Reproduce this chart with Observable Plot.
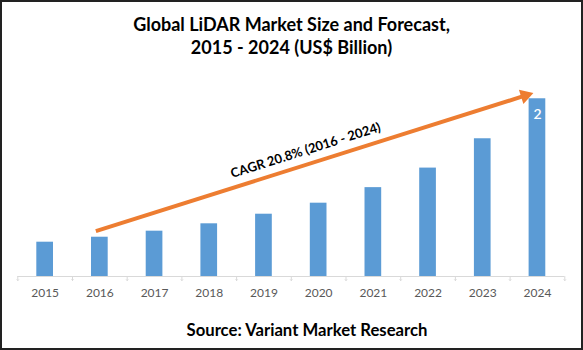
<!DOCTYPE html>
<html><head><meta charset="utf-8">
<script src="https://cdn.jsdelivr.net/npm/d3@7"></script>
<script src="https://cdn.jsdelivr.net/npm/@observablehq/plot@0.6"></script>
<style>
body{margin:0;background:#fff;}
#wrap{position:relative;width:583px;height:350px;background:#fff;font-family:Lato,"Open Sans",sans-serif;overflow:hidden}
#frame{position:absolute;left:0;top:0;width:583px;height:350px;box-sizing:border-box;border:2px solid #222;pointer-events:none}
#title{height:62px;box-sizing:border-box;padding-top:13px;text-align:center;font-weight:bold;font-size:18px;line-height:23px;color:#000}
#chart svg{display:block}
#source{height:40px;box-sizing:border-box;padding-top:9.5px;text-align:center;padding-left:31px;font-weight:bold;font-size:16.7px;line-height:20px;color:#000}
</style></head>
<body><div id="wrap"><div id="title"></div><div id="chart"></div><div id="source"></div><div id="frame"></div></div>
<script>
const years = ["2015","2016","2017","2018","2019","2020","2021","2022","2023","2024"];
const marketSize = [0.386, 0.442, 0.51, 0.593, 0.701, 0.825, 1.0, 1.22, 1.55, 2.0];
const valueLabels = ["", "", "", "", "", "", "", "", "", "2"];
const titleLines = ["Global LiDAR Market Size and Forecast,", "2015 - 2024 (US$ Billion)"];
const sourceText = "Source: Variant Market Research";
const cagrLabel = "CAGR 20.8% (2016 - 2024)";
const arrowYears = ["2016", "2024"];
const arrowValues = [0.51, 2.065];
const cagrYear = "2020";
const cagrValue = 1.418;

document.getElementById("title").innerHTML = titleLines.map(t => `<div>${t.replace(/\$/g, "&#36;")}</div>`).join("");
document.getElementById("source").textContent = sourceText;

const data = years.map((year, i) => ({year, value: marketSize[i], label: valueLabels[i]}));
const W = 583, mL = 17.3, mR = 18.7;
const step = (W - mL - mR) / years.length;

const chart = Plot.plot({
  width: W, height: 248,
  marginLeft: mL, marginRight: mR, marginTop: 18.5, marginBottom: 34,
  x: {domain: years, paddingInner: 0.695, paddingOuter: 0.3475, round: false, label: null},
  y: {domain: [0, 2.2], axis: null},
  style: {fontFamily: "Lato, 'Open Sans', sans-serif", background: "transparent", color: "#595959", overflow: "visible"},
  marks: [
    Plot.barY(data, {x: "year", y: "value", fill: "#5B9BD5"}),
    Plot.ruleY([0], {stroke: "#d9d9d9", strokeWidth: 1}),
    Plot.vector(years, {x: d => d, y: () => 0, length: 4, rotate: 180, anchor: "start", stroke: "#d9d9d9", strokeWidth: 1, dx: -step / 2}),
    Plot.vector([years[years.length - 1]], {x: d => d, y: () => 0, length: 4, rotate: 180, anchor: "start", stroke: "#d9d9d9", strokeWidth: 1, dx: step / 2}),
    Plot.axisX({tickSize: 0, tickPadding: 12, fontSize: 12, fill: "#595959", label: null}),
    Plot.text(data.filter(d => d.label), {x: "year", y: "value", text: "label", fill: "white", fontSize: 14, fontWeight: "600", dy: 16}),
    Plot.arrow([0], {x1: () => arrowYears[0], y1: () => arrowValues[0], x2: () => arrowYears[1], y2: () => arrowValues[1],
      stroke: "#ED7D31", strokeWidth: 4, headLength: 0, insetEnd: 9, dx: -4, strokeLinecap: "butt"}),
    Plot.dot([0], {x: () => arrowYears[1], y: () => arrowValues[1], symbol: "triangle", r: 5.5, fill: "#ED7D31", stroke: "none",
      rotate: 72.4, dx: -12.2, dy: 2.6}),
    Plot.text([cagrLabel], {x: () => cagrYear, y: () => cagrValue, text: d => d, rotate: -17.6, fontWeight: "bold", fontSize: 13, fill: "#000", dx: -13})
  ]
});
document.getElementById("chart").appendChild(chart);
</script>
</body></html>
